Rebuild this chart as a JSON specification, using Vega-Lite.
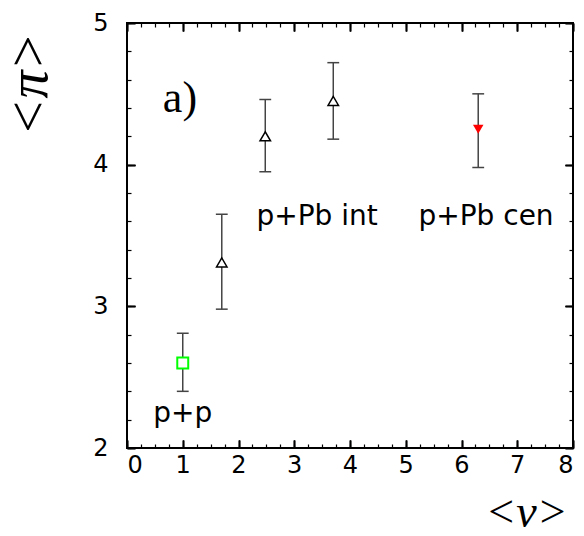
{
  "$schema": "https://vega.github.io/schema/vega-lite/v6.json",
  "width": 446,
  "height": 425,
  "autosize": {"type": "none"},
  "padding": {"left": 127, "top": 23, "right": 11, "bottom": 88},
  "background": "white",
  "config": {"view": {"stroke": "black", "strokeWidth": 2}},
  "data": {"values": [
      {"x": 1.0, "y": 2.60, "lo": 2.40, "hi": 2.81, "g": "pp"},
      {"x": 1.70, "y": 3.31, "lo": 2.98, "hi": 3.65, "g": "int"},
      {"x": 2.48, "y": 4.20, "lo": 3.95, "hi": 4.46, "g": "int"},
      {"x": 3.70, "y": 4.45, "lo": 4.18, "hi": 4.72, "g": "int"},
      {"x": 6.30, "y": 4.25, "lo": 3.98, "hi": 4.50, "g": "cen"}
  ]},
  "resolve": {"axis": {"x": "independent", "y": "independent"}},
  "layer": [
    {
      "mark": {"type": "rule", "color": "#444", "strokeWidth": 1.5},
      "encoding": {
        "x": {"field": "x", "type": "quantitative", "scale": {"domain": [0, 8], "nice": false, "zero": false},
              "axis": {"orient": "bottom", "values": [0,1,2,3,4,5,6,7,8], "grid": false, "domain": false, "tickColor": "black", "offset": -8, "tickSize": 8, "tickWidth": 1.5,
                       "labelPadding": 5, "labelFont": "DejaVu Sans", "labelFontSize": 24, "labelColor": "black",
                       "title": "<ν>", "titleColor": "black", "titleFont": "Liberation Serif", "titleFontStyle": "italic", "titleFontSize": 46, "titleFontWeight": "normal", "titleX": 399, "titleY": 86, "titleAlign": "center", "titleBaseline": "alphabetic"}},
        "y": {"field": "lo", "type": "quantitative", "scale": {"domain": [2, 5], "nice": false, "zero": false},
              "axis": {"orient": "left", "values": [2,3,4,5], "grid": false, "domain": false, "tickColor": "black", "offset": -8, "tickSize": 8, "tickWidth": 1.5,
                       "labelPadding": 19, "labelFont": "DejaVu Sans", "labelFontSize": 24, "labelColor": "black",
                       "title": "<π>", "titleColor": "black", "titleFont": "Liberation Serif", "titleFontStyle": "italic", "titleFontSize": 56, "titleFontWeight": "normal", "titleX": -106, "titleY": 61, "titleAngle": -90, "titleAlign": "center", "titleBaseline": "middle"}},
        "y2": {"field": "hi"}
      }
    },
    {
      "mark": {"type": "point", "shape": "stroke", "filled": false, "color": "#444", "size": 140, "strokeWidth": 1.5, "opacity": 1},
      "encoding": {
        "x": {"field": "x", "type": "quantitative",
              "axis": {"orient": "bottom", "values": [0,0.25,0.5,0.75,1,1.25,1.5,1.75,2,2.25,2.5,2.75,3,3.25,3.5,3.75,4,4.25,4.5,4.75,5,5.25,5.5,5.75,6,6.25,6.5,6.75,7,7.25,7.5,7.75,8], "grid": false, "domain": false, "tickColor": "black", "offset": -4, "tickSize": 4, "tickWidth": 1.2, "labels": false, "title": null}},
        "y": {"field": "lo", "type": "quantitative",
              "axis": {"orient": "left", "values": [2,2.2,2.4,2.6,2.8,3,3.2,3.4,3.6,3.8,4,4.2,4.4,4.6,4.8,5], "grid": false, "domain": false, "tickColor": "black", "offset": -4, "tickSize": 4, "tickWidth": 1.2, "labels": false, "title": null}}
      }
    },
    {
      "mark": {"type": "point", "shape": "stroke", "filled": false, "color": "#444", "size": 140, "strokeWidth": 1.5, "opacity": 1},
      "encoding": {
        "x": {"field": "x", "type": "quantitative",
              "axis": {"orient": "top", "values": [0,1,2,3,4,5,6,7,8], "grid": false, "domain": false, "tickColor": "black", "offset": -8, "tickSize": 8, "tickWidth": 1.5, "labels": false, "title": null}},
        "y": {"field": "hi", "type": "quantitative",
              "axis": {"orient": "right", "values": [2,3,4,5], "grid": false, "domain": false, "tickColor": "black", "offset": -8, "tickSize": 8, "tickWidth": 1.5, "labels": false, "title": null}}
      }
    },
    {
      "transform": [{"filter": "datum.g === 'pp'"}],
      "mark": {"type": "point", "shape": "square", "filled": false, "stroke": "#00ff00", "fill": "white", "fillOpacity": 1, "size": 120, "strokeWidth": 2, "opacity": 1},
      "encoding": {
        "x": {"field": "x", "type": "quantitative",
              "axis": {"orient": "top", "values": [0,0.25,0.5,0.75,1,1.25,1.5,1.75,2,2.25,2.5,2.75,3,3.25,3.5,3.75,4,4.25,4.5,4.75,5,5.25,5.5,5.75,6,6.25,6.5,6.75,7,7.25,7.5,7.75,8], "grid": false, "domain": false, "tickColor": "black", "offset": -4, "tickSize": 4, "tickWidth": 1.2, "labels": false, "title": null}},
        "y": {"field": "y", "type": "quantitative",
              "axis": {"orient": "right", "values": [2,2.2,2.4,2.6,2.8,3,3.2,3.4,3.6,3.8,4,4.2,4.4,4.6,4.8,5], "grid": false, "domain": false, "tickColor": "black", "offset": -4, "tickSize": 4, "tickWidth": 1.2, "labels": false, "title": null}}
      }
    },
    {
      "transform": [{"filter": "datum.g === 'int'"}],
      "mark": {"type": "point", "shape": "triangle-up", "filled": false, "stroke": "black", "fill": "white", "fillOpacity": 1, "size": 110, "strokeWidth": 1.5, "opacity": 1},
      "encoding": {
        "x": {"field": "x", "type": "quantitative",
              "axis": {"orient": "bottom", "values": [0,1,2,3,4,5,6,7,8], "grid": false, "domain": false, "tickColor": "black", "offset": -8, "tickSize": 8, "tickWidth": 1.5, "labels": false, "title": null}},
        "y": {"field": "y", "type": "quantitative",
              "axis": {"orient": "left", "values": [2,3,4,5], "grid": false, "domain": false, "tickColor": "black", "offset": -8, "tickSize": 8, "tickWidth": 1.5, "labels": false, "title": null}}
      }
    },
    {
      "transform": [{"filter": "datum.g === 'cen'"}],
      "mark": {"type": "point", "shape": "triangle-down", "filled": true, "color": "red", "size": 110, "opacity": 1},
      "encoding": {
        "x": {"field": "x", "type": "quantitative",
              "axis": {"orient": "top", "values": [0,1,2,3,4,5,6,7,8], "grid": false, "domain": false, "tickColor": "black", "offset": -8, "tickSize": 8, "tickWidth": 1.5, "labels": false, "title": null}},
        "y": {"field": "y", "type": "quantitative",
              "axis": {"orient": "right", "values": [2,3,4,5], "grid": false, "domain": false, "tickColor": "black", "offset": -8, "tickSize": 8, "tickWidth": 1.5, "labels": false, "title": null}}
      }
    },
    {
      "data": {"values": [
        {"x": 1.0, "y": 2.186, "t": "p+p"},
        {"x": 3.41, "y": 3.574, "t": "p+Pb int"},
        {"x": 6.44, "y": 3.574, "t": "p+Pb cen"}
      ]},
      "mark": {"type": "text", "font": "DejaVu Sans", "fontSize": 28, "align": "center", "baseline": "alphabetic", "color": "black"},
      "encoding": {
        "x": {"field": "x", "type": "quantitative",
              "axis": {"orient": "top", "values": [0,1,2,3,4,5,6,7,8], "grid": false, "domain": false, "tickColor": "black", "offset": -8, "tickSize": 8, "tickWidth": 1.5, "labels": false, "title": null}},
        "y": {"field": "y", "type": "quantitative",
              "axis": {"orient": "right", "values": [2,3,4,5], "grid": false, "domain": false, "tickColor": "black", "offset": -8, "tickSize": 8, "tickWidth": 1.5, "labels": false, "title": null}},
        "text": {"field": "t"}
      }
    },
    {
      "data": {"values": [
        {"x": 0.95, "y": 4.372, "t": "a)"}
      ]},
      "mark": {"type": "text", "font": "Liberation Serif", "fontSize": 44, "align": "center", "baseline": "alphabetic", "color": "black"},
      "encoding": {
        "x": {"field": "x", "type": "quantitative",
              "axis": {"orient": "bottom", "values": [0,1,2,3,4,5,6,7,8], "grid": false, "domain": false, "tickColor": "black", "offset": -8, "tickSize": 8, "tickWidth": 1.5, "labels": false, "title": null}},
        "y": {"field": "y", "type": "quantitative",
              "axis": {"orient": "left", "values": [2,3,4,5], "grid": false, "domain": false, "tickColor": "black", "offset": -8, "tickSize": 8, "tickWidth": 1.5, "labels": false, "title": null}},
        "text": {"field": "t"}
      }
    }
  ]
}
